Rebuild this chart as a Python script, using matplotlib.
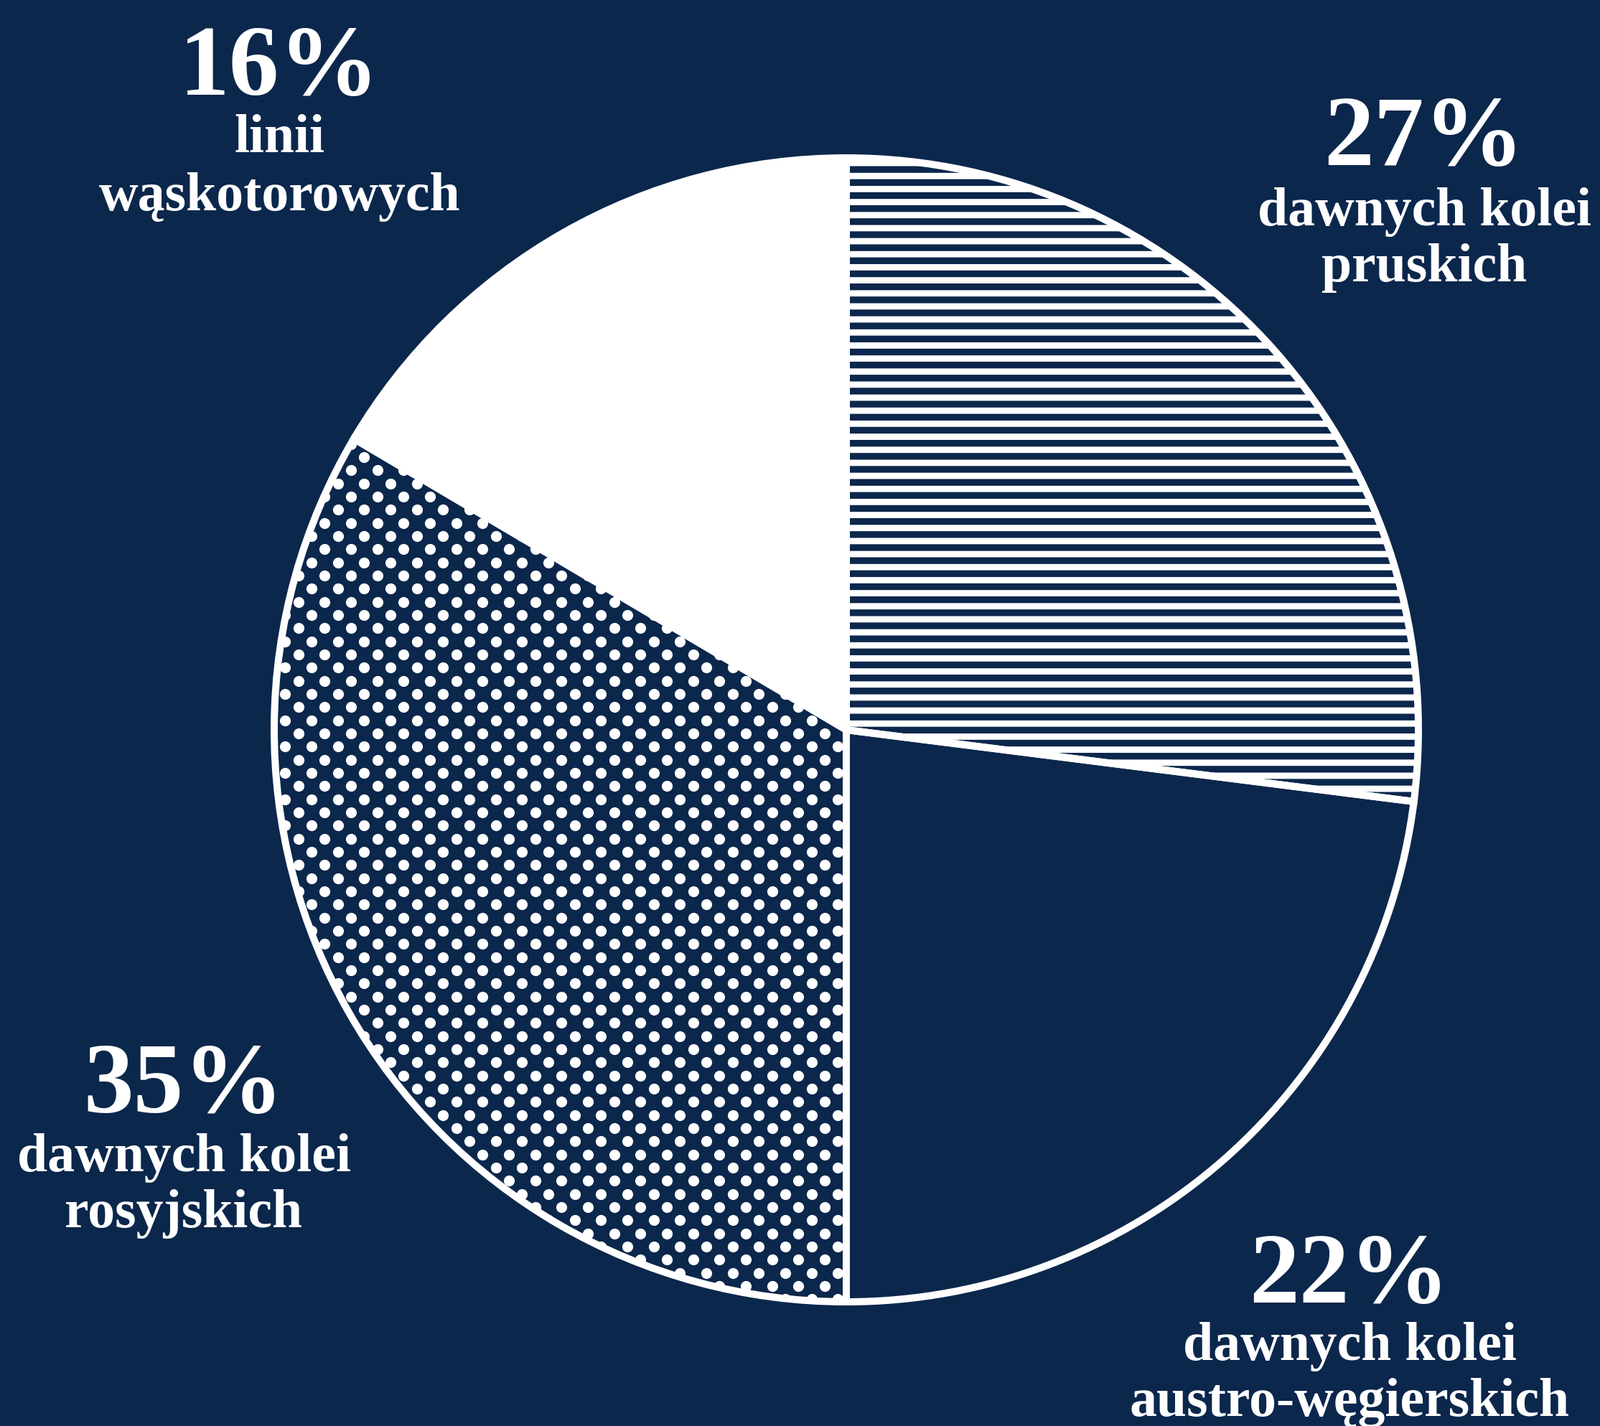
import numpy as np
import matplotlib
matplotlib.use("Agg")
import matplotlib.pyplot as plt

# dane z wykresu
kategorie = ['dawnych kolei\npruskich', 'dawnych kolei\naustro-węgierskich',
             'dawnych kolei\nrosyjskich', 'linii\nwąskotorowych']
procenty = [27, 22, 35, 16]          # podpisy na wykresie
udzialy = [27.0, 23.0, 33.5, 16.5]   # wielkość wycinków

W, H = 2229, 1987
DPI = 109.2
NAVY = '#0c274c'
WHITE = '#ffffff'

plt.rcParams['font.family'] = ['Liberation Serif', 'DejaVu Serif']
plt.rcParams['hatch.linewidth'] = 5.8
plt.rcParams['hatch.color'] = WHITE

fig = plt.figure(figsize=(W / DPI, H / DPI), dpi=DPI, facecolor=NAVY)
ax = fig.add_axes([0, 0, 1, 1])

# środek i promień koła (w pikselach, oś y od dołu)
cx, cy, r = 1179, H - 1017, 797

fills = [NAVY, NAVY, NAVY, WHITE]
hatches = ['-', None, None, None]

# wypełnienia wycinków
wedges, _ = ax.pie(udzialy, startangle=90, counterclock=False,
                   center=(cx, cy), radius=r, colors=fills, hatch=hatches,
                   wedgeprops=dict(edgecolor=WHITE, linewidth=0, zorder=1))

# kropki w wycinku "rosyjskim"
dx, dy = 36.67, 18.33
x0, y0 = 709, H - 912
rows = np.arange(-70, 70)
cols = np.arange(-25, 25)
gx = x0 + cols[None, :] * dx + (rows[:, None] % 2) * dx / 2
gy = y0 + rows[:, None] * dy + 0 * cols[None, :]
gx, gy = gx.ravel(), gy.ravel()
keep = (gx > cx - r - 20) & (gx < cx + 20) & (gy > cy - r - 20) & (gy < cy + r)
dots = ax.scatter(gx[keep], gy[keep], s=100, c=WHITE, linewidths=0, zorder=2)
dots.set_clip_path(wedges[2])

# białe obrysy na wierzchu
ax.pie(udzialy, startangle=90, counterclock=False, center=(cx, cy), radius=r,
       colors=['none'] * 4,
       wedgeprops=dict(edgecolor=WHITE, linewidth=6.6, zorder=4))

ax.set_xlim(0, W)
ax.set_ylim(0, H)
ax.axis('off')

# podpisy: x, linia bazowa liczby, linie bazowe tekstu (piksele od góry)
pozycje = [
    (1984, 230, [314, 392]),
    (1880, 1815, [1895, 1973]),
    (256, 1550, [1632, 1710]),
    (389, 132, [212, 293]),
]

for (x, y_num, y_txt), pct, kat in zip(pozycje, procenty, kategorie):
    ax.text(x, H - y_num, f'{pct}%', color=WHITE, fontsize=92,
            fontweight='bold', ha='center', va='baseline', zorder=5)
    for y, line in zip(y_txt, kat.split('\n')):
        ax.text(x, H - y, line, color=WHITE, fontsize=50,
                fontweight='bold', ha='center', va='baseline', zorder=5)

fig.savefig('out.png', dpi=DPI, facecolor=NAVY)
